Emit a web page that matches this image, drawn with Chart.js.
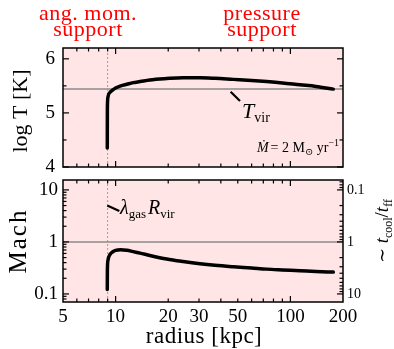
<!DOCTYPE html>
<html>
<head>
<meta charset="utf-8">
<script src="https://cdn.jsdelivr.net/npm/chart.js@4.4.0/dist/chart.umd.min.js"></script>
<style>
body{margin:0;background:#fff;}
#wrap{position:relative;width:394px;height:349px;}
canvas{position:absolute;left:0;}
</style>
</head>
<body>
<div id="wrap">
<canvas id="topChart" width="394" height="175" style="top:0"></canvas>
<canvas id="bottomChart" width="394" height="174" style="top:175px"></canvas>
</div>
<script>
// values
const radius = [8.96, 8.97, 8.99, 9.05, 9.29, 9.6, 10, 10.7, 11.6, 12.6, 13.8, 15.7, 19.6, 24.3, 30.4, 37, 47.1, 60, 73.2, 90, 113.5, 140, 176];
const logT   = [4.35, 5.0, 5.2, 5.3, 5.38, 5.42, 5.46, 5.50, 5.53, 5.56, 5.58, 5.61, 5.635, 5.65, 5.65, 5.64, 5.62, 5.60, 5.58, 5.555, 5.52, 5.49, 5.44];
const mach   = [0.122, 0.25, 0.36, 0.45, 0.575, 0.64, 0.69, 0.71, 0.69, 0.65, 0.61, 0.55, 0.47, 0.42, 0.38, 0.355, 0.333, 0.315, 0.30, 0.29, 0.28, 0.27, 0.263];
const tVir = 5.44;
const lambdaR = 9.0;

const xRange = [5, 200];
const tRange = [4, 6.2];
const machRange = [0.07, 15.5];

const xTickLabels = [5, 10, 20, 30, 50, 100, 200];
const xMajor = [10, 100];
const xMinor = [6, 7, 8, 9, 20, 30, 40, 50, 60, 70, 80, 90];
const tTicks = [4, 5, 6];
const tMinor = [4.5, 5.5];
const machTicks = [0.1, 1, 10];
const machMinor = [0.08, 0.09, 0.2, 0.3, 0.4, 0.5, 0.6, 0.7, 0.8, 0.9, 2, 3, 4, 5, 6, 7, 8, 9];
const coolTicks = [0.1, 1, 10];
const coolMinor = [0.07, 0.08, 0.09, 0.2, 0.3, 0.4, 0.5, 0.6, 0.7, 0.8, 0.9, 2, 3, 4, 5, 6, 7, 8, 9];

const serif = '"Liberation Serif", "DejaVu Serif", serif';
const pink = 'rgb(255,229,229)';

function richText(ctx, parts, x, y, align){
  let w = 0;
  parts.forEach(p => { ctx.font = p[1]; w += ctx.measureText(p[0]).width + (p[3] || 0); });
  let cx = align === 'center' ? x - w/2 : align === 'right' ? x - w : x;
  ctx.textAlign = 'left';
  parts.forEach(p => {
    ctx.font = p[1];
    ctx.fillText(p[0], cx, y + (p[2] || 0));
    cx += ctx.measureText(p[0]).width + (p[3] || 0);
  });
}

function line(ctx, x1, y1, x2, y2){
  ctx.beginPath(); ctx.moveTo(x1, y1); ctx.lineTo(x2, y2); ctx.stroke();
}

// keep the plot box where the figure has it: no extra room for edge labels
function fixWidth(w){
  return s => { s.width = w; s.paddingTop = 0; s.paddingBottom = 0; };
}

function frameTicks(yMajor, yMinor, rightId, rMajor, rMinor){
  return {
    id: 'frameTicks',
    beforeDraw(chart){
      const {ctx, chartArea: a} = chart;
      ctx.save();
      ctx.fillStyle = pink;
      ctx.fillRect(a.left, a.top, a.right - a.left, a.bottom - a.top);
      ctx.restore();
    },
    afterDatasetsDraw(chart){
      const {ctx, chartArea: a, scales} = chart;
      const rs = scales[rightId] || scales.y;
      ctx.save();
      ctx.strokeStyle = '#000';
      ctx.lineWidth = 1.2;
      xMajor.concat(xMinor).forEach(v => {
        const p = scales.x.getPixelForValue(v);
        const l = xMajor.includes(v) ? 6 : 3.5;
        line(ctx, p, a.top, p, a.top + l);
        line(ctx, p, a.bottom, p, a.bottom - l);
      });
      yMajor.concat(yMinor).forEach(v => {
        const p = scales.y.getPixelForValue(v);
        if (p < a.top || p > a.bottom) return;
        line(ctx, a.left, p, a.left + (yMajor.includes(v) ? 6 : 3.5), p);
      });
      rMajor.concat(rMinor).forEach(v => {
        const p = rs.getPixelForValue(v);
        if (p < a.top || p > a.bottom) return;
        line(ctx, a.right, p, a.right - (rMajor.includes(v) ? 6 : 3.5), p);
      });
      ctx.lineWidth = 1.5;
      ctx.strokeRect(a.left, a.top, a.right - a.left, a.bottom - a.top);
      ctx.restore();
    }
  };
}

const topText = {
  id: 'topText',
  afterDraw(chart){
    const {ctx, scales: {x, y}} = chart;
    ctx.save();
    ctx.fillStyle = '#ff0000';
    ctx.textBaseline = 'alphabetic';
    ctx.textAlign = 'center';
    ctx.font = '22px ' + serif;
    ctx.letterSpacing = '0.5px';
    ctx.fillText('ang. mom.', 88, 19.5);
    ctx.fillText('support', 88, 35.5);
    ctx.fillText('pressure', 262, 19.5);
    ctx.fillText('support', 262, 35.5);
    ctx.letterSpacing = '0px';

    ctx.fillStyle = '#000';
    ctx.strokeStyle = '#000';
    ctx.lineWidth = 2.2;
    line(ctx, x.getPixelForValue(45.5), y.getPixelForValue(5.39), x.getPixelForValue(51.5), y.getPixelForValue(5.22));
    richText(ctx, [['T', 'italic 22px ' + serif], ['vir', '14px ' + serif, 4]],
      x.getPixelForValue(52.9), y.getPixelForValue(4.91), 'left');
    richText(ctx, [
      ['\u1E40', 'italic 14px ' + serif, 0, 2],
      ['= 2 ', '14px ' + serif],
      ['M', '14px ' + serif],
      ['\u2299', '10px ' + serif, 3],
      [' yr', '14px ' + serif],
      ['\u22121', '10px ' + serif, -6]
    ], x.getPixelForValue(190), y.getPixelForValue(4.28), 'right');

    ctx.translate(21, 111);
    ctx.rotate(-Math.PI/2);
    ctx.textAlign = 'center';
    ctx.textBaseline = 'middle';
    ctx.font = '22px ' + serif;
    ctx.fillText('log T [K]', 0, 0);
    ctx.restore();
  }
};

const bottomText = {
  id: 'bottomText',
  afterDraw(chart){
    const {ctx, scales: {x, y}} = chart;
    ctx.save();
    ctx.fillStyle = '#000';
    ctx.strokeStyle = '#000';
    ctx.lineWidth = 2.2;
    line(ctx, x.getPixelForValue(8.96), y.getPixelForValue(5.03), x.getPixelForValue(10.5), y.getPixelForValue(3.91));
    ctx.textBaseline = 'alphabetic';
    richText(ctx, [
      ['\u03BB', 'italic 20px ' + serif],
      ['gas', '13px ' + serif, 4, 2],
      ['R', 'italic 20px ' + serif],
      ['vir', '13px ' + serif, 4]
    ], x.getPixelForValue(10.6), y.getPixelForValue(3.38), 'left');

    ctx.textAlign = 'center';
    ctx.font = '23px ' + serif;
    ctx.letterSpacing = '0.5px';
    ctx.fillText('radius [kpc]', 204, 168);

    ctx.save();
    ctx.translate(19, 66);
    ctx.rotate(-Math.PI/2);
    ctx.textBaseline = 'middle';
    ctx.font = '25px ' + serif;
    ctx.letterSpacing = '2px';
    ctx.fillText('Mach', 0, 0);
    ctx.restore();
    ctx.letterSpacing = '0px';

    ctx.save();
    ctx.translate(388, 56);
    ctx.rotate(-Math.PI/2);
    ctx.textBaseline = 'alphabetic';
    richText(ctx, [
      ['\u223C ', '18px ' + serif],
      ['t', 'italic 19px ' + serif],
      ['cool', '12px ' + serif, 4],
      ['/', '19px ' + serif],
      ['t', 'italic 19px ' + serif],
      ['ff', '12px ' + serif, 4]
    ], 0, 0, 'center');
    ctx.restore();
    ctx.restore();
  }
};

function curve(vals){
  return radius.map((r, i) => ({x: r, y: vals[i]}));
}

const tickFont = {family: serif, size: 19};

new Chart(document.getElementById('topChart'), {
  type: 'line',
  data: {
    datasets: [
      {data: curve(logT), borderColor: '#000', borderWidth: 3.5, pointRadius: 0, cubicInterpolationMode: 'monotone', borderCapStyle: 'round', order: 0},
      {data: [{x: xRange[0], y: tVir}, {x: xRange[1], y: tVir}], borderColor: '#8a8a8a', borderWidth: 1.5, pointRadius: 0, order: 1},
      {data: [{x: lambdaR, y: tRange[0]}, {x: lambdaR, y: tRange[1]}], borderColor: '#a0a0a0', borderWidth: 1, borderDash: [2, 2], pointRadius: 0, order: 2}
    ]
  },
  options: {
    responsive: false,
    animation: false,
    devicePixelRatio: 1,
    layout: {padding: {left: 0, right: 51, top: 48, bottom: 8}},
    plugins: {legend: {display: false}, tooltip: {enabled: false}},
    scales: {
      x: {type: 'logarithmic', min: xRange[0], max: xRange[1], display: false},
      y: {
        type: 'linear', min: tRange[0], max: tRange[1],
        afterBuildTicks: s => { s.ticks = tTicks.map(v => ({value: v})); },
        afterFit: fixWidth(63),
        grid: {display: false, drawTicks: false},
        border: {display: false},
        ticks: {font: tickFont, color: '#000', padding: 8}
      }
    }
  },
  plugins: [frameTicks(tTicks, tMinor, 'y', tTicks, tMinor), topText]
});

new Chart(document.getElementById('bottomChart'), {
  type: 'line',
  data: {
    datasets: [
      {data: curve(mach), borderColor: '#000', borderWidth: 3.5, pointRadius: 0, cubicInterpolationMode: 'monotone', borderCapStyle: 'round', order: 0},
      {data: [{x: xRange[0], y: 1}, {x: xRange[1], y: 1}], borderColor: '#8a8a8a', borderWidth: 1.5, pointRadius: 0, order: 1},
      {data: [{x: lambdaR, y: machRange[0]}, {x: lambdaR, y: machRange[1]}], borderColor: '#a0a0a0', borderWidth: 1, borderDash: [2, 2], pointRadius: 0, order: 2}
    ]
  },
  options: {
    responsive: false,
    animation: false,
    devicePixelRatio: 1,
    layout: {padding: {left: 0, right: 0, top: 5, bottom: 0}},
    plugins: {legend: {display: false}, tooltip: {enabled: false}},
    scales: {
      x: {
        type: 'logarithmic', min: xRange[0], max: xRange[1],
        afterBuildTicks: s => { s.ticks = xTickLabels.map(v => ({value: v})); },
        afterFit: s => { s.height = 47; s.paddingLeft = 0; s.paddingRight = 0; },
        grid: {display: false, drawTicks: false},
        border: {display: false},
        ticks: {font: tickFont, color: '#000', padding: 4, autoSkip: false, maxRotation: 0, callback: v => String(v)}
      },
      y: {
        type: 'logarithmic', min: machRange[0], max: machRange[1],
        afterBuildTicks: s => { s.ticks = machTicks.map(v => ({value: v})); },
        afterFit: fixWidth(63),
        grid: {display: false, drawTicks: false},
        border: {display: false},
        ticks: {font: tickFont, color: '#000', padding: 5, callback: v => String(v)}
      },
      y2: {
        type: 'logarithmic', position: 'right', reverse: true,
        min: 1 / machRange[1], max: 1 / machRange[0],
        afterBuildTicks: s => { s.ticks = coolTicks.map(v => ({value: v})); },
        afterFit: fixWidth(51),
        grid: {display: false, drawTicks: false},
        border: {display: false},
        ticks: {font: {family: serif, size: 14}, color: '#000', padding: 4, callback: v => String(v)}
      }
    }
  },
  plugins: [frameTicks(machTicks, machMinor, 'y2', coolTicks, coolMinor), bottomText]
});
</script>
</body>
</html>
